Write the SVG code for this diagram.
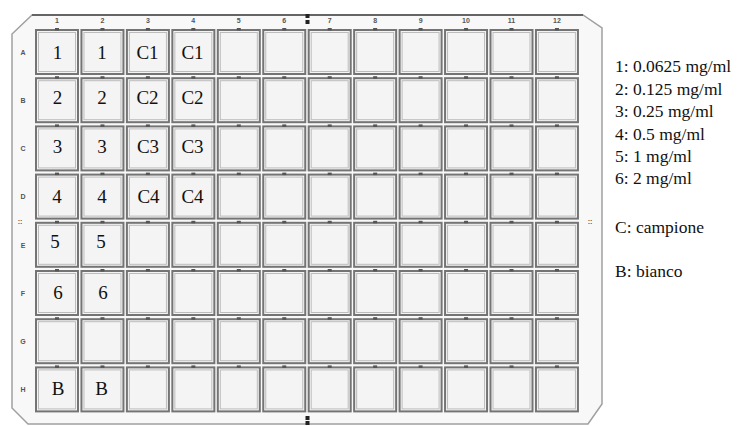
<svg xmlns="http://www.w3.org/2000/svg" xmlns:xlink="http://www.w3.org/1999/xlink" width="739" height="426" viewBox="0 0 739 426">
<defs>
<style>
.plate{fill:#f8f8f8;stroke:#a0a0a0;stroke-width:1.5}
.top{fill:none;stroke:#4a4a4a;stroke-width:1.5}
.wo{fill:#f4f4f4;stroke:#747474;stroke-width:2}
.wi{fill:none;stroke:#bcbcbc;stroke-width:1}
.mk{fill:#555}
.wt{font-family:"Liberation Serif",serif;font-size:19px;fill:#111;text-anchor:middle}
.lg{font-family:"Liberation Serif",serif;font-size:17.5px;fill:#111}
.sm{font-family:"Liberation Sans",sans-serif;font-size:7px;fill:#555;text-anchor:middle;font-weight:bold}
</style>
<g id="well">
<rect class="wo" x="0" y="0" width="42" height="44"/>
<rect class="wi" x="2.5" y="2.5" width="37" height="39"/>
<rect class="mk" x="19" y="-2" width="4" height="2.5"/>
</g>
</defs>
<rect width="739" height="426" fill="#ffffff"/>
<g id="plate">
<path class="plate" d="M32,15 L583,15 L602,28 L602,404 L588,424 L28,424 L12,408 L12,34 Z"/>
<path class="top" d="M32,15 L583,15"/>
<rect x="305.5" y="14" width="4" height="4" fill="#222"/>
<rect x="305.5" y="20" width="4" height="4" fill="#222"/>
<rect x="305.5" y="416" width="4" height="4" fill="#222"/>
<rect x="305.5" y="421" width="4" height="4" fill="#222"/>
<text class="sm" x="20" y="224">::</text>
<text class="sm" x="590" y="224">::</text>
</g>
<g id="col-labels">
<text class="sm" x="57" y="23">1</text>
<text class="sm" x="102.5" y="23">2</text>
<text class="sm" x="148" y="23">3</text>
<text class="sm" x="193.3" y="23">4</text>
<text class="sm" x="238.8" y="23">5</text>
<text class="sm" x="284.3" y="23">6</text>
<text class="sm" x="329.7" y="23">7</text>
<text class="sm" x="375.2" y="23">8</text>
<text class="sm" x="420.6" y="23">9</text>
<text class="sm" x="466" y="23">10</text>
<text class="sm" x="511.5" y="23">11</text>
<text class="sm" x="557" y="23">12</text>
</g>
<g id="row-labels">
<text class="sm" x="23" y="55">A</text>
<text class="sm" x="23" y="103">B</text>
<text class="sm" x="23" y="151">C</text>
<text class="sm" x="23" y="199">D</text>
<text class="sm" x="23" y="248">E</text>
<text class="sm" x="23" y="296">F</text>
<text class="sm" x="23" y="344">G</text>
<text class="sm" x="23" y="392">H</text>
</g>
<g id="wells">
<use xlink:href="#well" x="36" y="30"/><use xlink:href="#well" x="81.45" y="30"/><use xlink:href="#well" x="126.9" y="30"/><use xlink:href="#well" x="172.35" y="30"/><use xlink:href="#well" x="217.8" y="30"/><use xlink:href="#well" x="263.25" y="30"/><use xlink:href="#well" x="308.7" y="30"/><use xlink:href="#well" x="354.15" y="30"/><use xlink:href="#well" x="399.6" y="30"/><use xlink:href="#well" x="445.05" y="30"/><use xlink:href="#well" x="490.5" y="30"/><use xlink:href="#well" x="535.95" y="30"/>
<use xlink:href="#well" x="36" y="78.2"/><use xlink:href="#well" x="81.45" y="78.2"/><use xlink:href="#well" x="126.9" y="78.2"/><use xlink:href="#well" x="172.35" y="78.2"/><use xlink:href="#well" x="217.8" y="78.2"/><use xlink:href="#well" x="263.25" y="78.2"/><use xlink:href="#well" x="308.7" y="78.2"/><use xlink:href="#well" x="354.15" y="78.2"/><use xlink:href="#well" x="399.6" y="78.2"/><use xlink:href="#well" x="445.05" y="78.2"/><use xlink:href="#well" x="490.5" y="78.2"/><use xlink:href="#well" x="535.95" y="78.2"/>
<use xlink:href="#well" x="36" y="126.4"/><use xlink:href="#well" x="81.45" y="126.4"/><use xlink:href="#well" x="126.9" y="126.4"/><use xlink:href="#well" x="172.35" y="126.4"/><use xlink:href="#well" x="217.8" y="126.4"/><use xlink:href="#well" x="263.25" y="126.4"/><use xlink:href="#well" x="308.7" y="126.4"/><use xlink:href="#well" x="354.15" y="126.4"/><use xlink:href="#well" x="399.6" y="126.4"/><use xlink:href="#well" x="445.05" y="126.4"/><use xlink:href="#well" x="490.5" y="126.4"/><use xlink:href="#well" x="535.95" y="126.4"/>
<use xlink:href="#well" x="36" y="174.6"/><use xlink:href="#well" x="81.45" y="174.6"/><use xlink:href="#well" x="126.9" y="174.6"/><use xlink:href="#well" x="172.35" y="174.6"/><use xlink:href="#well" x="217.8" y="174.6"/><use xlink:href="#well" x="263.25" y="174.6"/><use xlink:href="#well" x="308.7" y="174.6"/><use xlink:href="#well" x="354.15" y="174.6"/><use xlink:href="#well" x="399.6" y="174.6"/><use xlink:href="#well" x="445.05" y="174.6"/><use xlink:href="#well" x="490.5" y="174.6"/><use xlink:href="#well" x="535.95" y="174.6"/>
<use xlink:href="#well" x="36" y="222.8"/><use xlink:href="#well" x="81.45" y="222.8"/><use xlink:href="#well" x="126.9" y="222.8"/><use xlink:href="#well" x="172.35" y="222.8"/><use xlink:href="#well" x="217.8" y="222.8"/><use xlink:href="#well" x="263.25" y="222.8"/><use xlink:href="#well" x="308.7" y="222.8"/><use xlink:href="#well" x="354.15" y="222.8"/><use xlink:href="#well" x="399.6" y="222.8"/><use xlink:href="#well" x="445.05" y="222.8"/><use xlink:href="#well" x="490.5" y="222.8"/><use xlink:href="#well" x="535.95" y="222.8"/>
<use xlink:href="#well" x="36" y="271"/><use xlink:href="#well" x="81.45" y="271"/><use xlink:href="#well" x="126.9" y="271"/><use xlink:href="#well" x="172.35" y="271"/><use xlink:href="#well" x="217.8" y="271"/><use xlink:href="#well" x="263.25" y="271"/><use xlink:href="#well" x="308.7" y="271"/><use xlink:href="#well" x="354.15" y="271"/><use xlink:href="#well" x="399.6" y="271"/><use xlink:href="#well" x="445.05" y="271"/><use xlink:href="#well" x="490.5" y="271"/><use xlink:href="#well" x="535.95" y="271"/>
<use xlink:href="#well" x="36" y="319.2"/><use xlink:href="#well" x="81.45" y="319.2"/><use xlink:href="#well" x="126.9" y="319.2"/><use xlink:href="#well" x="172.35" y="319.2"/><use xlink:href="#well" x="217.8" y="319.2"/><use xlink:href="#well" x="263.25" y="319.2"/><use xlink:href="#well" x="308.7" y="319.2"/><use xlink:href="#well" x="354.15" y="319.2"/><use xlink:href="#well" x="399.6" y="319.2"/><use xlink:href="#well" x="445.05" y="319.2"/><use xlink:href="#well" x="490.5" y="319.2"/><use xlink:href="#well" x="535.95" y="319.2"/>
<use xlink:href="#well" x="36" y="367.4"/><use xlink:href="#well" x="81.45" y="367.4"/><use xlink:href="#well" x="126.9" y="367.4"/><use xlink:href="#well" x="172.35" y="367.4"/><use xlink:href="#well" x="217.8" y="367.4"/><use xlink:href="#well" x="263.25" y="367.4"/><use xlink:href="#well" x="308.7" y="367.4"/><use xlink:href="#well" x="354.15" y="367.4"/><use xlink:href="#well" x="399.6" y="367.4"/><use xlink:href="#well" x="445.05" y="367.4"/><use xlink:href="#well" x="490.5" y="367.4"/><use xlink:href="#well" x="535.95" y="367.4"/>
</g>
<g id="well-labels">
<text class="wt" x="57.5" y="59">1</text><text class="wt" x="102" y="59">1</text><text class="wt" x="147.5" y="59">C1</text><text class="wt" x="192.5" y="59">C1</text>
<text class="wt" x="57.5" y="104">2</text><text class="wt" x="102" y="104">2</text><text class="wt" x="147.5" y="104">C2</text><text class="wt" x="192.5" y="104">C2</text>
<text class="wt" x="57.5" y="153">3</text><text class="wt" x="102" y="153">3</text><text class="wt" x="148" y="153">C3</text><text class="wt" x="192.5" y="153">C3</text>
<text class="wt" x="57" y="203">4</text><text class="wt" x="102" y="203">4</text><text class="wt" x="148.5" y="203">C4</text><text class="wt" x="192.5" y="203">C4</text>
<text class="wt" x="55" y="248">5</text><text class="wt" x="101" y="248">5</text>
<text class="wt" x="58" y="299">6</text><text class="wt" x="103" y="299">6</text>
<text class="wt" x="58" y="395">B</text><text class="wt" x="101.5" y="395">B</text>
</g>
<g id="legend">
<text class="lg" x="615" y="71.5">1: 0.0625 mg/ml</text>
<text class="lg" x="615" y="94.5">2: 0.125 mg/ml</text>
<text class="lg" x="615" y="117">3: 0.25 mg/ml</text>
<text class="lg" x="615" y="139.5">4: 0.5 mg/ml</text>
<text class="lg" x="615" y="161.5">5: 1 mg/ml</text>
<text class="lg" x="615" y="184">6: 2 mg/ml</text>
<text class="lg" x="615" y="233">C: campione</text>
<text class="lg" x="615" y="277">B: bianco</text>
</g>
</svg>
